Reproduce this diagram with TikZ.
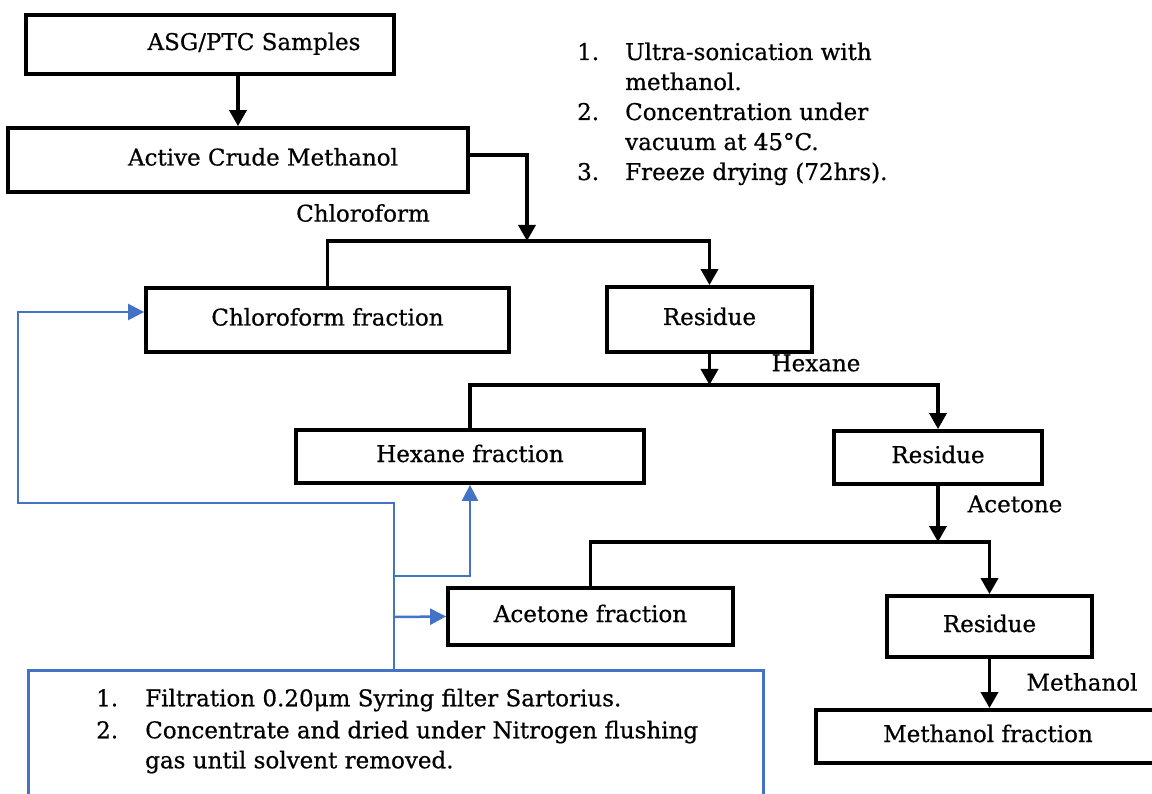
\documentclass[tikz,border=0pt]{standalone}
\usepackage{fontspec}
\setmainfont[FakeBold=0.6]{DejaVu Serif}
\usetikzlibrary{arrows.meta}
\definecolor{flowblue}{HTML}{4472C4}

\begin{document}
\begin{tikzpicture}[x=1pt, y=-1pt,
  every node/.style={font=\fontsize{23}{30}\selectfont},
  box/.style={draw, line width=3.8pt, inner sep=0pt, text height=17pt, text depth=6pt},
  arr/.style={line width=3.5pt, -{Triangle[width=17pt,length=16pt]}},
  feed/.style={flowblue, line width=2.5pt, -{Triangle[width=16pt,length=16pt]}}]
  \useasboundingbox (0,0) rectangle (1152,794);
  \node[box, minimum width=368pt, minimum height=59pt] (asg) at (210,44.5) {\hspace*{88pt}ASG/PTC Samples};
  \node[box, minimum width=460pt, minimum height=64pt] (crude) at (238,160) {\hspace*{50pt}Active Crude Methanol};
  \node[box, minimum width=363pt, minimum height=64pt] (chl) at (327.5,320) {Chloroform fraction};
  \node[box, minimum width=205pt, minimum height=65pt] (res1) at (709.5,319.5) {Residue};
  \node[box, minimum width=348pt, minimum height=53pt] (hex) at (470,456.5) {Hexane fraction};
  \node[box, minimum width=208pt, minimum height=53pt] (res2) at (938,457.5) {Residue};
  \node[box, minimum width=285pt, minimum height=57pt] (ace) at (590.5,616.5) {Acetone fraction};
  \node[box, minimum width=205pt, minimum height=61pt] (res3) at (989.5,626.5) {Residue};
  \node[box, minimum width=344pt, minimum height=53pt] (meoh) at (988,736.5) {Methanol fraction};

  \node (lchl) at (363,213) {Chloroform};
  \node (lhex) at (816,363) {Hexane};
  \node (lace) at (1015,504) {Acetone};
  \node (lmeoh) at (1082,682) {Methanol};

  \node[anchor=base west, inner sep=0pt] (steps) at (577,60) {\begin{tabular}[t]{@{}p{48pt}@{}l@{}}
    1. & Ultra-sonication with\\
       & methanol.\\
    2. & Concentration under\\
       & vacuum at 45°C.\\
    3. & Freeze drying (72hrs).
  \end{tabular}};
  \node[draw=flowblue, line width=2.5pt, anchor=north west, inner xsep=68pt, inner ysep=0pt,
    text height=36pt, text depth=140pt] (filt) at (27,669) {\makebox[599pt][l]{\begin{tabular}[t]{@{}p{49pt}@{}l@{}}
    1. & Filtration 0.20μm Syring filter Sartorius.\\[2pt]
    2. & Concentrate and dried under Nitrogen flushing\\
       & gas until solvent removed.
  \end{tabular}}};

  \coordinate (split1) at (527,241);
  \coordinate (split2) at (709.5,385);
  \coordinate (split3) at (938,542);
  \draw[arr] (asg.south -| crude.north) -- (crude.north);
  \draw[arr] ([yshift=5pt]crude.east) -| (split1);
  \draw[arr] (chl.north) |- (split1) -| (res1.north);
  \draw[arr] (res1.south) -- (split2);
  \draw[arr] (hex.north) |- (split2) -| (res2.north);
  \draw[arr] (res2.south) -- (split3);
  \draw[arr] (ace.north) |- (split3) -| (res3.north);
  \draw[arr] (res3.south) -- (meoh.north -| res3.south);

  \coordinate (trunk) at (394,503);
  \coordinate (loop) at (18,503);
  \coordinate (tap1) at (394,576);
  \coordinate (tap2) at (394,617);
  \draw[feed] (filt.north -| trunk) -- (trunk) -- (loop) |- ([yshift=8pt]chl.west);
  \draw[feed] (tap1) -| (hex.south);
  \draw[feed] (tap2) -- (ace.west);
\end{tikzpicture}
\end{document}
